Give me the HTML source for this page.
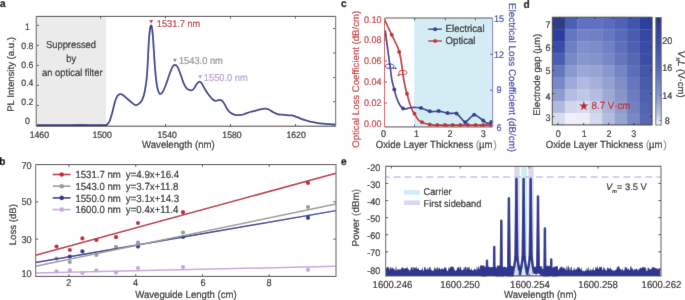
<!DOCTYPE html>
<html><head><meta charset="utf-8"><style>
html,body{margin:0;padding:0;background:#fff;width:685px;height:300px;overflow:hidden}
svg{display:block}
text{font-family:"Liberation Sans", sans-serif;stroke-width:0.2px;text-rendering:geometricPrecision}
</style></head><body>
<svg width="685" height="300" viewBox="0 0 685 300">
<defs><filter id="soft" x="0" y="0" width="100%" height="100%" filterUnits="userSpaceOnUse"><feConvolveMatrix order="3" kernelMatrix="0.00524 0.06192 0.00524 0.06192 0.73137 0.06192 0.00524 0.06192 0.00524" edgeMode="duplicate"/></filter></defs>
<rect width="685" height="300" fill="#fff"/>
<g filter="url(#soft)">
<rect width="685" height="300" fill="#fff"/>
<text transform="translate(0.1,7.4) scale(0.9346,1)" font-size="10.91" text-anchor="start" fill="#000" stroke="#000" font-weight="bold" >a</text>
<rect x="36.3" y="16.4" width="69.7" height="109.80000000000001" fill="#ebebeb"/>
<text transform="translate(71.0,48.2) scale(0.9346,1)" font-size="10.06" text-anchor="middle" fill="#2a2a2a" stroke="#2a2a2a" font-weight="normal" >Suppressed</text>
<text transform="translate(71.2,62.0) scale(0.9346,1)" font-size="10.06" text-anchor="middle" fill="#2a2a2a" stroke="#2a2a2a" font-weight="normal" >by</text>
<text transform="translate(72.3,75.8) scale(0.9346,1)" font-size="10.06" text-anchor="middle" fill="#2a2a2a" stroke="#2a2a2a" font-weight="normal" >an optical filter</text>
<line x1="36.3" y1="25.4" x2="38.9" y2="25.4" stroke="#3c3c3c" stroke-width="0.9" />
<line x1="36.3" y1="45.4" x2="38.9" y2="45.4" stroke="#3c3c3c" stroke-width="0.9" />
<line x1="36.3" y1="65.4" x2="38.9" y2="65.4" stroke="#3c3c3c" stroke-width="0.9" />
<line x1="36.3" y1="85.4" x2="38.9" y2="85.4" stroke="#3c3c3c" stroke-width="0.9" />
<line x1="36.3" y1="105.4" x2="38.9" y2="105.4" stroke="#3c3c3c" stroke-width="0.9" />
<line x1="333.0" y1="28.5" x2="335.6" y2="28.5" stroke="#3c3c3c" stroke-width="0.9" />
<line x1="333.0" y1="53.0" x2="335.6" y2="53.0" stroke="#3c3c3c" stroke-width="0.9" />
<line x1="333.0" y1="77.5" x2="335.6" y2="77.5" stroke="#3c3c3c" stroke-width="0.9" />
<line x1="333.0" y1="101.7" x2="335.6" y2="101.7" stroke="#3c3c3c" stroke-width="0.9" />
<line x1="100.6" y1="126.2" x2="100.6" y2="124.0" stroke="#3c3c3c" stroke-width="0.9" />
<line x1="100.6" y1="16.4" x2="100.6" y2="18.599999999999998" stroke="#3c3c3c" stroke-width="0.9" />
<line x1="165.5" y1="126.2" x2="165.5" y2="124.0" stroke="#3c3c3c" stroke-width="0.9" />
<line x1="165.5" y1="16.4" x2="165.5" y2="18.599999999999998" stroke="#3c3c3c" stroke-width="0.9" />
<line x1="230.5" y1="126.2" x2="230.5" y2="124.0" stroke="#3c3c3c" stroke-width="0.9" />
<line x1="230.5" y1="16.4" x2="230.5" y2="18.599999999999998" stroke="#3c3c3c" stroke-width="0.9" />
<line x1="295.5" y1="126.2" x2="295.5" y2="124.0" stroke="#3c3c3c" stroke-width="0.9" />
<line x1="295.5" y1="16.4" x2="295.5" y2="18.599999999999998" stroke="#3c3c3c" stroke-width="0.9" />
<path d="M36.30,125.10 C40.25,125.12 52.72,125.22 60.00,125.20 C67.28,125.18 72.67,125.02 80.00,125.00 C87.33,124.98 99.55,125.17 104.00,125.10 C108.45,125.03 105.95,124.95 106.70,124.60 C107.45,124.25 107.95,123.77 108.50,123.00 C109.05,122.23 109.33,121.88 110.00,120.00 C110.67,118.12 111.67,114.75 112.50,111.70 C113.33,108.65 114.17,104.35 115.00,101.70 C115.83,99.05 116.67,97.05 117.50,95.80 C118.33,94.55 119.17,94.38 120.00,94.20 C120.83,94.02 121.38,94.02 122.50,94.70 C123.62,95.38 125.32,97.13 126.70,98.30 C128.08,99.47 129.42,100.58 130.80,101.70 C132.18,102.82 133.75,104.58 135.00,105.00 C136.25,105.42 137.18,104.90 138.30,104.20 C139.42,103.50 140.80,102.20 141.70,100.80 C142.60,99.40 143.10,97.88 143.70,95.80 C144.30,93.72 144.80,91.27 145.30,88.30 C145.80,85.33 146.30,82.17 146.70,78.00 C147.10,73.83 147.35,69.30 147.70,63.30 C148.05,57.30 148.42,47.72 148.80,42.00 C149.18,36.28 149.62,31.78 150.00,29.00 C150.38,26.22 150.73,25.30 151.10,25.30 C151.47,25.30 151.83,26.22 152.20,29.00 C152.57,31.78 152.95,37.17 153.30,42.00 C153.65,46.83 153.97,53.05 154.30,58.00 C154.63,62.95 154.90,67.37 155.30,71.70 C155.70,76.03 156.20,80.75 156.70,84.00 C157.20,87.25 157.75,89.57 158.30,91.20 C158.85,92.83 159.30,93.63 160.00,93.80 C160.70,93.97 161.53,93.67 162.50,92.20 C163.47,90.73 164.68,87.87 165.80,85.00 C166.92,82.13 168.08,78.02 169.20,75.00 C170.32,71.98 171.58,68.58 172.50,66.90 C173.42,65.22 173.87,64.90 174.70,64.90 C175.53,64.90 176.48,65.22 177.50,66.90 C178.52,68.58 179.77,72.27 180.80,75.00 C181.83,77.73 182.72,81.08 183.70,83.30 C184.68,85.52 185.65,87.15 186.70,88.30 C187.75,89.45 189.03,89.92 190.00,90.20 C190.97,90.48 191.80,90.32 192.50,90.00 C193.20,89.68 193.50,89.27 194.20,88.30 C194.90,87.33 195.78,85.30 196.70,84.20 C197.62,83.10 198.87,81.85 199.70,81.70 C200.53,81.55 200.82,82.05 201.70,83.30 C202.58,84.55 203.90,87.38 205.00,89.20 C206.10,91.02 207.05,92.53 208.30,94.20 C209.55,95.87 211.25,98.10 212.50,99.20 C213.75,100.30 214.88,100.62 215.80,100.80 C216.72,100.98 217.30,100.45 218.00,100.30 C218.70,100.15 219.25,99.75 220.00,99.90 C220.75,100.05 221.67,100.35 222.50,101.20 C223.33,102.05 224.17,103.62 225.00,105.00 C225.83,106.38 226.53,108.15 227.50,109.50 C228.47,110.85 229.55,112.22 230.80,113.10 C232.05,113.98 233.75,114.47 235.00,114.80 C236.25,115.13 236.92,115.15 238.30,115.10 C239.68,115.05 241.35,115.02 243.30,114.50 C245.25,113.98 247.92,112.65 250.00,112.00 C252.08,111.35 253.85,111.07 255.80,110.60 C257.75,110.13 260.08,109.53 261.70,109.20 C263.32,108.87 264.32,108.55 265.50,108.60 C266.68,108.65 267.50,108.88 268.80,109.50 C270.10,110.12 271.72,111.48 273.30,112.30 C274.88,113.12 276.77,114.02 278.30,114.40 C279.83,114.78 281.10,114.47 282.50,114.60 C283.90,114.73 285.17,115.07 286.70,115.20 C288.23,115.33 290.32,115.22 291.70,115.40 C293.08,115.58 293.62,115.82 295.00,116.30 C296.38,116.78 298.33,117.65 300.00,118.30 C301.67,118.95 303.33,119.65 305.00,120.20 C306.67,120.75 308.05,121.17 310.00,121.60 C311.95,122.03 314.48,122.47 316.70,122.80 C318.92,123.13 321.08,123.37 323.30,123.60 C325.52,123.83 327.97,124.03 330.00,124.20 C332.03,124.37 334.58,124.53 335.50,124.60" fill="none" stroke="#35388c" stroke-width="1.8" stroke-linejoin="round"/>
<line x1="36.3" y1="16.4" x2="335.6" y2="16.4" stroke="#3a3a3a" stroke-width="1.0" />
<line x1="36.3" y1="126.2" x2="335.6" y2="126.2" stroke="#3a3a3a" stroke-width="1.0" />
<line x1="36.3" y1="15.899999999999999" x2="36.3" y2="126.7" stroke="#7c7c7c" stroke-width="1.25" />
<line x1="335.6" y1="15.899999999999999" x2="335.6" y2="126.7" stroke="#7c7c7c" stroke-width="1.25" />
<path d="M149.29999999999998,20.1 L153.1,20.1 L151.2,23.5 Z" fill="#c0272d"/>
<text transform="translate(156.8,26.6) scale(0.9346,1)" font-size="9.84" text-anchor="start" fill="#b8323a" stroke="#b8323a" font-weight="normal" >1531.7 nm</text>
<path d="M172.9,58.75 L176.9,58.75 L174.9,62.25 Z" fill="#8c8c8c"/>
<text transform="translate(178.9,64.0) scale(0.9346,1)" font-size="9.95" text-anchor="start" fill="#909090" stroke="#909090" font-weight="normal" >1543.0 nm</text>
<path d="M198.2,75.25 L202.2,75.25 L200.2,78.75 Z" fill="#b99bd6"/>
<text transform="translate(203.8,81.2) scale(0.9346,1)" font-size="9.95" text-anchor="start" fill="#b69bd6" stroke="#b69bd6" font-weight="normal" >1550.0 nm</text>
<text transform="translate(27.4,30.099999999999998) scale(0.9346,1)" font-size="9.31" text-anchor="middle" fill="#262626" stroke="#262626" font-weight="normal" >1</text>
<text transform="translate(27.4,48.8) scale(0.9346,1)" font-size="9.31" text-anchor="middle" fill="#262626" stroke="#262626" font-weight="normal" >0.8</text>
<text transform="translate(27.4,67.5) scale(0.9346,1)" font-size="9.31" text-anchor="middle" fill="#262626" stroke="#262626" font-weight="normal" >0.6</text>
<text transform="translate(27.4,86.2) scale(0.9346,1)" font-size="9.31" text-anchor="middle" fill="#262626" stroke="#262626" font-weight="normal" >0.4</text>
<text transform="translate(27.4,104.9) scale(0.9346,1)" font-size="9.31" text-anchor="middle" fill="#262626" stroke="#262626" font-weight="normal" >0.2</text>
<text transform="translate(27.4,123.60000000000001) scale(0.9346,1)" font-size="9.31" text-anchor="middle" fill="#262626" stroke="#262626" font-weight="normal" >0</text>
<text transform="translate(39.3,137.6) scale(0.9346,1)" font-size="9.31" text-anchor="middle" fill="#262626" stroke="#262626" font-weight="normal" >1460</text>
<text transform="translate(102.1,137.6) scale(0.9346,1)" font-size="9.31" text-anchor="middle" fill="#262626" stroke="#262626" font-weight="normal" >1500</text>
<text transform="translate(167.2,137.6) scale(0.9346,1)" font-size="9.31" text-anchor="middle" fill="#262626" stroke="#262626" font-weight="normal" >1540</text>
<text transform="translate(232,137.6) scale(0.9346,1)" font-size="9.31" text-anchor="middle" fill="#262626" stroke="#262626" font-weight="normal" >1580</text>
<text transform="translate(296.1,137.6) scale(0.9346,1)" font-size="9.31" text-anchor="middle" fill="#262626" stroke="#262626" font-weight="normal" >1620</text>
<text transform="translate(178.4,148.2) scale(0.9346,1)" font-size="10.27" text-anchor="middle" fill="#262626" stroke="#262626" font-weight="normal" >Wavelength (nm)</text>
<text transform="translate(14.0,74.4) rotate(-90)" font-size="9.6" text-anchor="middle" fill="#262626" stroke="#262626" >PL Intensity (a.u.)</text>
<text transform="translate(340.9,7.4) scale(0.9346,1)" font-size="10.91" text-anchor="start" fill="#000" stroke="#000" font-weight="bold" >c</text>
<rect x="414.1" y="18.0" width="78.5" height="108.9" fill="#d4edf5"/>
<line x1="384.5" y1="18.0" x2="492.6" y2="18.0" stroke="#555" stroke-width="1" />
<line x1="384.5" y1="126.9" x2="492.6" y2="126.9" stroke="#9a9a9a" stroke-width="1.6" />
<line x1="414.7" y1="18.0" x2="414.7" y2="20.5" stroke="#555" stroke-width="1" />
<line x1="445.3" y1="18.0" x2="445.3" y2="20.5" stroke="#555" stroke-width="1" />
<line x1="475.4" y1="18.0" x2="475.4" y2="20.5" stroke="#555" stroke-width="1" />
<line x1="414.5" y1="126.9" x2="414.5" y2="124.4" stroke="#555" stroke-width="1" />
<line x1="447.5" y1="126.9" x2="447.5" y2="124.4" stroke="#555" stroke-width="1" />
<line x1="480.5" y1="126.9" x2="480.5" y2="124.4" stroke="#555" stroke-width="1" />
<path d="M384.40,19.20 C385.00,20.50 386.78,24.42 388.00,27.00 C389.22,29.58 390.58,32.37 391.70,34.70 C392.82,37.03 393.77,39.07 394.70,41.00 C395.63,42.93 396.55,44.47 397.30,46.30 C398.05,48.13 398.62,49.88 399.20,52.00 C399.78,54.12 400.28,56.17 400.80,59.00 C401.32,61.83 401.80,65.50 402.30,69.00 C402.80,72.50 403.28,76.87 403.80,80.00 C404.32,83.13 404.87,85.52 405.40,87.80 C405.93,90.08 406.33,91.25 407.00,93.70 C407.67,96.15 408.57,99.87 409.40,102.50 C410.23,105.13 411.15,107.62 412.00,109.50 C412.85,111.38 413.50,112.13 414.50,113.80 C415.50,115.47 416.75,118.08 418.00,119.50 C419.25,120.92 420.67,121.58 422.00,122.30 C423.33,123.02 424.70,123.43 426.00,123.80 C427.30,124.17 428.47,124.30 429.80,124.50 C431.13,124.70 432.73,124.90 434.00,125.00 C435.27,125.10 427.90,125.08 437.40,125.10 C446.90,125.12 482.07,125.10 491.00,125.10" fill="none" stroke="#c22f36" stroke-width="1.7"/>
<circle cx="391.7" cy="34.7" r="2.0" fill="#c22f36"/>
<circle cx="399.2" cy="52" r="2.0" fill="#c22f36"/>
<circle cx="407" cy="93.7" r="2.0" fill="#c22f36"/>
<circle cx="414.5" cy="113.8" r="2.0" fill="#c22f36"/>
<circle cx="422" cy="122.3" r="2.0" fill="#c22f36"/>
<circle cx="429.8" cy="124.4" r="2.0" fill="#c22f36"/>
<circle cx="437.4" cy="125.1" r="2.0" fill="#c22f36"/>
<circle cx="445.03" cy="125.1" r="2.0" fill="#c22f36"/>
<circle cx="452.65999999999997" cy="125.1" r="2.0" fill="#c22f36"/>
<circle cx="460.28999999999996" cy="125.1" r="2.0" fill="#c22f36"/>
<circle cx="467.91999999999996" cy="125.1" r="2.0" fill="#c22f36"/>
<circle cx="475.54999999999995" cy="125.1" r="2.0" fill="#c22f36"/>
<circle cx="483.17999999999995" cy="125.1" r="2.0" fill="#c22f36"/>
<circle cx="490.80999999999995" cy="125.1" r="2.0" fill="#c22f36"/>
<path d="M385.20,30.30 C385.42,31.92 385.95,35.88 386.50,40.00 C387.05,44.12 387.87,50.33 388.50,55.00 C389.13,59.67 389.73,63.83 390.30,68.00 C390.87,72.17 391.23,76.40 391.90,80.00 C392.57,83.60 393.53,86.68 394.30,89.60 C395.07,92.52 395.60,94.98 396.50,97.50 C397.40,100.02 398.62,102.87 399.70,104.70 C400.78,106.53 401.95,107.82 403.00,108.50 C404.05,109.18 405.00,108.88 406.00,108.80 C407.00,108.72 408.00,108.22 409.00,108.00 C410.00,107.78 410.83,107.58 412.00,107.50 C413.17,107.42 414.50,107.42 416.00,107.50 C417.50,107.58 419.50,107.67 421.00,108.00 C422.50,108.33 423.53,108.95 425.00,109.50 C426.47,110.05 428.30,110.97 429.80,111.30 C431.30,111.63 432.53,111.53 434.00,111.50 C435.47,111.47 437.10,111.02 438.60,111.10 C440.10,111.18 441.52,111.67 443.00,112.00 C444.48,112.33 446.00,112.87 447.50,113.10 C449.00,113.33 450.50,113.33 452.00,113.40 C453.50,113.47 455.00,112.73 456.50,113.50 C458.00,114.27 459.55,116.55 461.00,118.00 C462.45,119.45 463.78,122.12 465.20,122.20 C466.62,122.28 468.00,119.73 469.50,118.50 C471.00,117.27 472.70,115.05 474.20,114.80 C475.70,114.55 477.00,116.07 478.50,117.00 C480.00,117.93 481.73,119.33 483.20,120.40 C484.67,121.47 485.93,123.13 487.30,123.40 C488.67,123.67 490.72,122.23 491.40,122.00" fill="none" stroke="#343a96" stroke-width="1.7"/>
<circle cx="394.3" cy="89.6" r="2.0" fill="#343a96"/>
<circle cx="403" cy="108.5" r="2.0" fill="#343a96"/>
<circle cx="421" cy="108" r="2.0" fill="#343a96"/>
<circle cx="429.8" cy="111.3" r="2.0" fill="#343a96"/>
<circle cx="438.6" cy="111.1" r="2.0" fill="#343a96"/>
<circle cx="447.5" cy="113.1" r="2.0" fill="#343a96"/>
<circle cx="456.5" cy="113.5" r="2.0" fill="#343a96"/>
<circle cx="465.2" cy="122.2" r="2.0" fill="#343a96"/>
<circle cx="474.2" cy="114.8" r="2.0" fill="#343a96"/>
<circle cx="483.2" cy="120.4" r="2.0" fill="#343a96"/>
<circle cx="491.4" cy="122" r="2.0" fill="#343a96"/>
<ellipse cx="389.7" cy="66.2" rx="4.3" ry="2.1" fill="none" stroke="#343a96" stroke-width="1"/>
<path d="M392.5,68.3 L395.8,68.3" stroke="#343a96" stroke-width="1"/><path d="M397,68.3 L395,67 L395,69.6 Z" fill="#343a96"/>
<ellipse cx="402.8" cy="72.6" rx="4.1" ry="2.1" fill="none" stroke="#c22f36" stroke-width="1"/>
<path d="M400,74.9 L398.2,75.1" stroke="#c22f36" stroke-width="1"/><path d="M397,75.2 L399,73.9 L399,76.5 Z" fill="#c22f36"/>
<line x1="384.5" y1="18.0" x2="384.5" y2="126.9" stroke="#cc5a60" stroke-width="1.0" />
<line x1="492.6" y1="18.0" x2="492.6" y2="126.9" stroke="#8a8ccc" stroke-width="1.1" />
<line x1="384.5" y1="40" x2="387.0" y2="40" stroke="#c23a40" stroke-width="1" />
<line x1="384.5" y1="61" x2="387.0" y2="61" stroke="#c23a40" stroke-width="1" />
<line x1="384.5" y1="82" x2="387.0" y2="82" stroke="#c23a40" stroke-width="1" />
<line x1="384.5" y1="103" x2="387.0" y2="103" stroke="#c23a40" stroke-width="1" />
<line x1="490.1" y1="54.3" x2="492.6" y2="54.3" stroke="#4a4fa8" stroke-width="1" />
<line x1="490.1" y1="90.2" x2="492.6" y2="90.2" stroke="#4a4fa8" stroke-width="1" />
<line x1="428.2" y1="29.2" x2="441.9" y2="29.2" stroke="#343a96" stroke-width="1.4" />
<circle cx="435.1" cy="29.2" r="2.0" fill="#343a96"/>
<line x1="428.2" y1="41.0" x2="441.9" y2="41.0" stroke="#c22f36" stroke-width="1.4" />
<circle cx="435.1" cy="41.0" r="2.0" fill="#c22f36"/>
<text transform="translate(445.6,32.0) scale(0.9346,1)" font-size="10.27" text-anchor="start" fill="#262626" stroke="#262626" font-weight="normal" >Electrical</text>
<text transform="translate(445.6,43.9) scale(0.9346,1)" font-size="10.27" text-anchor="start" fill="#262626" stroke="#262626" font-weight="normal" >Optical</text>
<text transform="translate(381.4,22.6) scale(0.9346,1)" font-size="9.63" text-anchor="end" fill="#c0393f" stroke="#c0393f" font-weight="normal" >0.10</text>
<text transform="translate(381.4,43.3) scale(0.9346,1)" font-size="9.63" text-anchor="end" fill="#c0393f" stroke="#c0393f" font-weight="normal" >0.08</text>
<text transform="translate(381.4,64.3) scale(0.9346,1)" font-size="9.63" text-anchor="end" fill="#c0393f" stroke="#c0393f" font-weight="normal" >0.06</text>
<text transform="translate(381.4,85.3) scale(0.9346,1)" font-size="9.63" text-anchor="end" fill="#c0393f" stroke="#c0393f" font-weight="normal" >0.04</text>
<text transform="translate(381.4,106.1) scale(0.9346,1)" font-size="9.63" text-anchor="end" fill="#c0393f" stroke="#c0393f" font-weight="normal" >0.02</text>
<text transform="translate(381.4,127.2) scale(0.9346,1)" font-size="9.63" text-anchor="end" fill="#c0393f" stroke="#c0393f" font-weight="normal" >0.00</text>
<text transform="translate(499.0,21.8) scale(0.9346,1)" font-size="9.63" text-anchor="middle" fill="#3d429c" stroke="#3d429c" font-weight="normal" >15</text>
<text transform="translate(499.0,57.8) scale(0.9346,1)" font-size="9.63" text-anchor="middle" fill="#3d429c" stroke="#3d429c" font-weight="normal" >12</text>
<text transform="translate(499.0,93.4) scale(0.9346,1)" font-size="9.63" text-anchor="middle" fill="#3d429c" stroke="#3d429c" font-weight="normal" >9</text>
<text transform="translate(499.0,130.8) scale(0.9346,1)" font-size="9.63" text-anchor="middle" fill="#3d429c" stroke="#3d429c" font-weight="normal" >6</text>
<text transform="translate(383.5,137.0) scale(0.9346,1)" font-size="9.63" text-anchor="middle" fill="#262626" stroke="#262626" font-weight="normal" >0</text>
<text transform="translate(416.6,137.0) scale(0.9346,1)" font-size="9.63" text-anchor="middle" fill="#262626" stroke="#262626" font-weight="normal" >1</text>
<text transform="translate(450.0,137.0) scale(0.9346,1)" font-size="9.63" text-anchor="middle" fill="#262626" stroke="#262626" font-weight="normal" >2</text>
<text transform="translate(483.2,137.0) scale(0.9346,1)" font-size="9.63" text-anchor="middle" fill="#262626" stroke="#262626" font-weight="normal" >3</text>
<text transform="translate(436.2,148.2) scale(0.9346,1)" font-size="10.27" text-anchor="middle" fill="#262626" stroke="#262626" font-weight="normal" >Oxide Layer Thickness <tspan fill="#8a8a8a" stroke="#8a8a8a">(</tspan>µm <tspan fill="#8a8a8a" stroke="#8a8a8a" dx="-2">)</tspan></text>
<text transform="translate(358.8,79.3) rotate(-90)" font-size="9.6" text-anchor="middle" fill="#c0393f" stroke="#c0393f" >Optical Loss Coefficient (dB/cm)</text>
<text transform="translate(508.6,77.6) rotate(90)" font-size="9.8" text-anchor="middle" fill="#3d429c" stroke="#3d429c" >Electrical Loss Coefficient (dB/cm)</text>
<text transform="translate(523.6,7.5) scale(0.9346,1)" font-size="10.91" text-anchor="start" fill="#000" stroke="#000" font-weight="bold" >d</text>
<rect x="552.30" y="17.20" width="12.76" height="12.27" fill="#303a88"/>
<rect x="564.76" y="17.20" width="12.76" height="12.27" fill="#4d5eb5"/>
<rect x="577.22" y="17.20" width="12.76" height="12.27" fill="#6070c0"/>
<rect x="589.69" y="17.20" width="12.76" height="12.27" fill="#6070c0"/>
<rect x="602.15" y="17.20" width="12.76" height="12.27" fill="#5a6cbe"/>
<rect x="614.61" y="17.20" width="12.76" height="12.27" fill="#5063b6"/>
<rect x="627.08" y="17.20" width="12.76" height="12.27" fill="#4356ab"/>
<rect x="639.54" y="17.20" width="12.76" height="12.27" fill="#2c3f9c"/>
<rect x="552.30" y="29.17" width="12.76" height="12.27" fill="#2a3d9e"/>
<rect x="564.76" y="29.17" width="12.76" height="12.27" fill="#6474bf"/>
<rect x="577.22" y="29.17" width="12.76" height="12.27" fill="#7282c5"/>
<rect x="589.69" y="29.17" width="12.76" height="12.27" fill="#7080c4"/>
<rect x="602.15" y="29.17" width="12.76" height="12.27" fill="#6676c0"/>
<rect x="614.61" y="29.17" width="12.76" height="12.27" fill="#5a6bb8"/>
<rect x="627.08" y="29.17" width="12.76" height="12.27" fill="#4a5cb0"/>
<rect x="639.54" y="29.17" width="12.76" height="12.27" fill="#3547a2"/>
<rect x="552.30" y="41.13" width="12.76" height="12.27" fill="#3a4ba8"/>
<rect x="564.76" y="41.13" width="12.76" height="12.27" fill="#6e7ec5"/>
<rect x="577.22" y="41.13" width="12.76" height="12.27" fill="#8090cc"/>
<rect x="589.69" y="41.13" width="12.76" height="12.27" fill="#7c8cca"/>
<rect x="602.15" y="41.13" width="12.76" height="12.27" fill="#7080c5"/>
<rect x="614.61" y="41.13" width="12.76" height="12.27" fill="#6070bc"/>
<rect x="627.08" y="41.13" width="12.76" height="12.27" fill="#5060b2"/>
<rect x="639.54" y="41.13" width="12.76" height="12.27" fill="#3a4ca6"/>
<rect x="552.30" y="53.10" width="12.76" height="12.27" fill="#4a5db5"/>
<rect x="564.76" y="53.10" width="12.76" height="12.27" fill="#7888c6"/>
<rect x="577.22" y="53.10" width="12.76" height="12.27" fill="#8898cd"/>
<rect x="589.69" y="53.10" width="12.76" height="12.27" fill="#8494cb"/>
<rect x="602.15" y="53.10" width="12.76" height="12.27" fill="#7888c4"/>
<rect x="614.61" y="53.10" width="12.76" height="12.27" fill="#6676bc"/>
<rect x="627.08" y="53.10" width="12.76" height="12.27" fill="#5567b3"/>
<rect x="639.54" y="53.10" width="12.76" height="12.27" fill="#3e4fa5"/>
<rect x="552.30" y="65.07" width="12.76" height="12.27" fill="#6676c0"/>
<rect x="564.76" y="65.07" width="12.76" height="12.27" fill="#8a9ad0"/>
<rect x="577.22" y="65.07" width="12.76" height="12.27" fill="#9ca8d6"/>
<rect x="589.69" y="65.07" width="12.76" height="12.27" fill="#98a4d4"/>
<rect x="602.15" y="65.07" width="12.76" height="12.27" fill="#8898cd"/>
<rect x="614.61" y="65.07" width="12.76" height="12.27" fill="#7484c2"/>
<rect x="627.08" y="65.07" width="12.76" height="12.27" fill="#5d6eb8"/>
<rect x="639.54" y="65.07" width="12.76" height="12.27" fill="#4455a8"/>
<rect x="552.30" y="77.03" width="12.76" height="12.27" fill="#7888c8"/>
<rect x="564.76" y="77.03" width="12.76" height="12.27" fill="#9eaad8"/>
<rect x="577.22" y="77.03" width="12.76" height="12.27" fill="#b0badf"/>
<rect x="589.69" y="77.03" width="12.76" height="12.27" fill="#a6b0da"/>
<rect x="602.15" y="77.03" width="12.76" height="12.27" fill="#94a2d2"/>
<rect x="614.61" y="77.03" width="12.76" height="12.27" fill="#7e8ec8"/>
<rect x="627.08" y="77.03" width="12.76" height="12.27" fill="#6676bc"/>
<rect x="639.54" y="77.03" width="12.76" height="12.27" fill="#4a5bab"/>
<rect x="552.30" y="89.00" width="12.76" height="12.27" fill="#8e9cd0"/>
<rect x="564.76" y="89.00" width="12.76" height="12.27" fill="#b4bee0"/>
<rect x="577.22" y="89.00" width="12.76" height="12.27" fill="#c0c8e5"/>
<rect x="589.69" y="89.00" width="12.76" height="12.27" fill="#b4bde0"/>
<rect x="602.15" y="89.00" width="12.76" height="12.27" fill="#9eaad6"/>
<rect x="614.61" y="89.00" width="12.76" height="12.27" fill="#8896ca"/>
<rect x="627.08" y="89.00" width="12.76" height="12.27" fill="#6c7cbe"/>
<rect x="639.54" y="89.00" width="12.76" height="12.27" fill="#4f60ae"/>
<rect x="552.30" y="100.97" width="12.76" height="12.27" fill="#b0bade"/>
<rect x="564.76" y="100.97" width="12.76" height="12.27" fill="#d0d6ec"/>
<rect x="577.22" y="100.97" width="12.76" height="12.27" fill="#d6dbef"/>
<rect x="589.69" y="100.97" width="12.76" height="12.27" fill="#c8cfe8"/>
<rect x="602.15" y="100.97" width="12.76" height="12.27" fill="#aab4da"/>
<rect x="614.61" y="100.97" width="12.76" height="12.27" fill="#909ecc"/>
<rect x="627.08" y="100.97" width="12.76" height="12.27" fill="#7282c0"/>
<rect x="639.54" y="100.97" width="12.76" height="12.27" fill="#5264b0"/>
<rect x="552.30" y="112.93" width="12.76" height="12.27" fill="#d8dcf0"/>
<rect x="564.76" y="112.93" width="12.76" height="12.27" fill="#eeeff8"/>
<rect x="577.22" y="112.93" width="12.76" height="12.27" fill="#ecedf7"/>
<rect x="589.69" y="112.93" width="12.76" height="12.27" fill="#d4d9ee"/>
<rect x="602.15" y="112.93" width="12.76" height="12.27" fill="#b4bddf"/>
<rect x="614.61" y="112.93" width="12.76" height="12.27" fill="#98a4d0"/>
<rect x="627.08" y="112.93" width="12.76" height="12.27" fill="#7888c4"/>
<rect x="639.54" y="112.93" width="12.76" height="12.27" fill="#5667b2"/>
<rect x="552.3" y="17.2" width="99.70000000000005" height="107.7" fill="none" stroke="#444" stroke-width="1"/>
<line x1="558.0" y1="124.9" x2="558.0" y2="122.9" stroke="#333" stroke-width="1" />
<line x1="583.7" y1="124.9" x2="583.7" y2="122.9" stroke="#333" stroke-width="1" />
<line x1="608.6" y1="124.9" x2="608.6" y2="122.9" stroke="#333" stroke-width="1" />
<line x1="633.8" y1="124.9" x2="633.8" y2="122.9" stroke="#333" stroke-width="1" />
<line x1="559.5" y1="17.2" x2="559.5" y2="19.0" stroke="#333" stroke-width="1" />
<line x1="577.1" y1="17.2" x2="577.1" y2="19.0" stroke="#333" stroke-width="1" />
<line x1="594.9" y1="17.2" x2="594.9" y2="19.0" stroke="#333" stroke-width="1" />
<line x1="613.2" y1="17.2" x2="613.2" y2="19.0" stroke="#333" stroke-width="1" />
<line x1="630.6" y1="17.2" x2="630.6" y2="19.0" stroke="#333" stroke-width="1" />
<line x1="648.4" y1="17.2" x2="648.4" y2="19.0" stroke="#333" stroke-width="1" />
<line x1="552.3" y1="24.2" x2="554.3" y2="24.2" stroke="#333" stroke-width="1" />
<line x1="650.0" y1="24.2" x2="652.0" y2="24.2" stroke="#333" stroke-width="1" />
<line x1="552.3" y1="47.0" x2="554.3" y2="47.0" stroke="#333" stroke-width="1" />
<line x1="650.0" y1="47.0" x2="652.0" y2="47.0" stroke="#333" stroke-width="1" />
<line x1="552.3" y1="70.2" x2="554.3" y2="70.2" stroke="#333" stroke-width="1" />
<line x1="650.0" y1="70.2" x2="652.0" y2="70.2" stroke="#333" stroke-width="1" />
<line x1="552.3" y1="93.6" x2="554.3" y2="93.6" stroke="#333" stroke-width="1" />
<line x1="650.0" y1="93.6" x2="652.0" y2="93.6" stroke="#333" stroke-width="1" />
<line x1="552.3" y1="116.6" x2="554.3" y2="116.6" stroke="#333" stroke-width="1" />
<line x1="650.0" y1="116.6" x2="652.0" y2="116.6" stroke="#333" stroke-width="1" />
<text transform="translate(548.0,27.8) scale(0.9346,1)" font-size="9.63" text-anchor="middle" fill="#262626" stroke="#262626" font-weight="normal" >7</text>
<text transform="translate(548.0,50.5) scale(0.9346,1)" font-size="9.63" text-anchor="middle" fill="#262626" stroke="#262626" font-weight="normal" >6</text>
<text transform="translate(548.0,73.7) scale(0.9346,1)" font-size="9.63" text-anchor="middle" fill="#262626" stroke="#262626" font-weight="normal" >5</text>
<text transform="translate(548.0,99.5) scale(0.9346,1)" font-size="9.63" text-anchor="middle" fill="#262626" stroke="#262626" font-weight="normal" >4</text>
<text transform="translate(548.0,121.1) scale(0.9346,1)" font-size="9.63" text-anchor="middle" fill="#262626" stroke="#262626" font-weight="normal" >3</text>
<text transform="translate(558.3,137.0) scale(0.9346,1)" font-size="9.63" text-anchor="middle" fill="#262626" stroke="#262626" font-weight="normal" >0</text>
<text transform="translate(584.3,137.0) scale(0.9346,1)" font-size="9.63" text-anchor="middle" fill="#262626" stroke="#262626" font-weight="normal" >1</text>
<text transform="translate(608.9,137.0) scale(0.9346,1)" font-size="9.63" text-anchor="middle" fill="#262626" stroke="#262626" font-weight="normal" >2</text>
<text transform="translate(633.8,137.0) scale(0.9346,1)" font-size="9.63" text-anchor="middle" fill="#262626" stroke="#262626" font-weight="normal" >3</text>
<text transform="translate(606.2,148.2) scale(0.9346,1)" font-size="10.27" text-anchor="middle" fill="#262626" stroke="#262626" font-weight="normal" >Oxide Layer Thickness <tspan fill="#8a8a8a" stroke="#8a8a8a">(</tspan>µm <tspan fill="#8a8a8a" stroke="#8a8a8a" dx="-2">)</tspan></text>
<text transform="translate(540.2,74.8) rotate(-90)" font-size="9.6" text-anchor="middle" fill="#262626" stroke="#262626" >Electrode gap (µm)</text>
<polygon points="583.80,101.10 585.00,104.44 588.56,104.55 585.75,106.73 586.74,110.15 583.80,108.15 580.86,110.15 581.85,106.73 579.04,104.55 582.60,104.44" fill="#c0272d"/>
<text transform="translate(591.6,108.8) scale(0.9346,1)" font-size="10.38" text-anchor="start" fill="#c0272d" stroke="#c0272d" font-weight="normal" >8.7 V·cm</text>
<defs><linearGradient id="cb" x1="0" y1="0" x2="0" y2="1"><stop offset="0" stop-color="#2d3585"/><stop offset="0.2" stop-color="#3a4aa8"/><stop offset="0.46" stop-color="#5566b8"/><stop offset="0.72" stop-color="#8595cf"/><stop offset="0.9" stop-color="#c0c8e6"/><stop offset="1" stop-color="#f2f2fa"/></linearGradient></defs>
<rect x="655.8" y="17.6" width="5.4" height="107.4" fill="url(#cb)" stroke="#555" stroke-width="0.8"/>
<text transform="translate(667.3,43.5) scale(0.9346,1)" font-size="9.63" text-anchor="middle" fill="#262626" stroke="#262626" font-weight="normal" >20</text>
<text transform="translate(667.3,71.3) scale(0.9346,1)" font-size="9.63" text-anchor="middle" fill="#262626" stroke="#262626" font-weight="normal" >16</text>
<text transform="translate(667.3,98.8) scale(0.9346,1)" font-size="9.63" text-anchor="middle" fill="#262626" stroke="#262626" font-weight="normal" >14</text>
<text transform="translate(667.3,124.0) scale(0.9346,1)" font-size="9.63" text-anchor="middle" fill="#262626" stroke="#262626" font-weight="normal" >8</text>
<line x1="661.2" y1="40.0" x2="659.6" y2="40.0" stroke="#555" stroke-width="0.8" />
<line x1="661.2" y1="67.8" x2="659.6" y2="67.8" stroke="#555" stroke-width="0.8" />
<line x1="661.2" y1="95.3" x2="659.6" y2="95.3" stroke="#555" stroke-width="0.8" />
<line x1="661.2" y1="120.5" x2="659.6" y2="120.5" stroke="#555" stroke-width="0.8" />
<text transform="translate(677.8,50.8) rotate(90)" font-size="9.5" fill="#262626" stroke="#262626"><tspan font-style="italic">V</tspan><tspan font-size="6" font-style="italic" dy="2">π</tspan><tspan font-style="italic" dy="-2">L</tspan> (V·cm)</text>
<text transform="translate(-0.8,164.7) scale(0.9346,1)" font-size="10.91" text-anchor="start" fill="#000" stroke="#000" font-weight="bold" >b</text>
<line x1="35.6" y1="239.13333333333333" x2="38.2" y2="239.13333333333333" stroke="#3c3c3c" stroke-width="0.9" />
<line x1="333.4" y1="239.13333333333333" x2="336.0" y2="239.13333333333333" stroke="#3c3c3c" stroke-width="0.9" />
<line x1="35.6" y1="201.86666666666667" x2="38.2" y2="201.86666666666667" stroke="#3c3c3c" stroke-width="0.9" />
<line x1="333.4" y1="201.86666666666667" x2="336.0" y2="201.86666666666667" stroke="#3c3c3c" stroke-width="0.9" />
<line x1="68.97777777777777" y1="276.4" x2="68.97777777777777" y2="274.2" stroke="#3c3c3c" stroke-width="0.9" />
<line x1="68.97777777777777" y1="164.6" x2="68.97777777777777" y2="166.79999999999998" stroke="#3c3c3c" stroke-width="0.9" />
<line x1="135.73333333333332" y1="276.4" x2="135.73333333333332" y2="274.2" stroke="#3c3c3c" stroke-width="0.9" />
<line x1="135.73333333333332" y1="164.6" x2="135.73333333333332" y2="166.79999999999998" stroke="#3c3c3c" stroke-width="0.9" />
<line x1="202.48888888888888" y1="276.4" x2="202.48888888888888" y2="274.2" stroke="#3c3c3c" stroke-width="0.9" />
<line x1="202.48888888888888" y1="164.6" x2="202.48888888888888" y2="166.79999999999998" stroke="#3c3c3c" stroke-width="0.9" />
<line x1="269.2444444444444" y1="276.4" x2="269.2444444444444" y2="274.2" stroke="#3c3c3c" stroke-width="0.9" />
<line x1="269.2444444444444" y1="164.6" x2="269.2444444444444" y2="166.79999999999998" stroke="#3c3c3c" stroke-width="0.9" />
<circle cx="56.5" cy="246.5" r="2.1" fill="#b92c3a"/>
<circle cx="69.8" cy="250" r="2.1" fill="#b92c3a"/>
<circle cx="82.4" cy="238.4" r="2.1" fill="#b92c3a"/>
<circle cx="96.4" cy="240" r="2.1" fill="#b92c3a"/>
<circle cx="116" cy="237.2" r="2.1" fill="#b92c3a"/>
<circle cx="138" cy="223" r="2.1" fill="#b92c3a"/>
<circle cx="183" cy="212.2" r="2.1" fill="#b92c3a"/>
<circle cx="308" cy="183" r="2.1" fill="#b92c3a"/>
<circle cx="56.5" cy="258.6" r="2.1" fill="#9b9b9b"/>
<circle cx="69.8" cy="262" r="2.1" fill="#9b9b9b"/>
<circle cx="96.4" cy="255" r="2.1" fill="#9b9b9b"/>
<circle cx="116" cy="246.8" r="2.1" fill="#9b9b9b"/>
<circle cx="138" cy="242.6" r="2.1" fill="#9b9b9b"/>
<circle cx="183" cy="232.5" r="2.1" fill="#9b9b9b"/>
<circle cx="308" cy="207" r="2.1" fill="#9b9b9b"/>
<circle cx="69.8" cy="256.5" r="2.1" fill="#2f3490"/>
<circle cx="82.4" cy="251.4" r="2.1" fill="#2f3490"/>
<circle cx="138" cy="246.6" r="2.1" fill="#2f3490"/>
<circle cx="183" cy="237" r="2.1" fill="#2f3490"/>
<circle cx="308" cy="217.8" r="2.1" fill="#2f3490"/>
<circle cx="56.5" cy="271.4" r="2.1" fill="#c7a6dd"/>
<circle cx="69.8" cy="270.4" r="2.1" fill="#c7a6dd"/>
<circle cx="82.4" cy="273" r="2.1" fill="#c7a6dd"/>
<circle cx="96.4" cy="270.3" r="2.1" fill="#c7a6dd"/>
<circle cx="116" cy="272.6" r="2.1" fill="#c7a6dd"/>
<circle cx="138" cy="268" r="2.1" fill="#c7a6dd"/>
<circle cx="183" cy="267" r="2.1" fill="#c7a6dd"/>
<circle cx="308" cy="269.8" r="2.1" fill="#c7a6dd"/>
<line x1="35.6" y1="255.3443333333333" x2="336.0" y2="173.17133333333334" stroke="#b92c3a" stroke-width="1.5" />
<line x1="35.6" y1="262.61133333333333" x2="336.0" y2="210.6243333333333" stroke="#2f3490" stroke-width="1.5" />
<line x1="35.6" y1="266.15166666666664" x2="336.0" y2="204.10266666666666" stroke="#9b9b9b" stroke-width="1.5" />
<line x1="35.6" y1="273.046" x2="336.0" y2="266.33799999999997" stroke="#c7a6dd" stroke-width="1.5" />
<line x1="35.6" y1="164.6" x2="336.0" y2="164.6" stroke="#3a3a3a" stroke-width="1.0" />
<line x1="35.6" y1="276.4" x2="336.0" y2="276.4" stroke="#3a3a3a" stroke-width="1.0" />
<line x1="35.6" y1="164.1" x2="35.6" y2="276.9" stroke="#7c7c7c" stroke-width="1.25" />
<line x1="336.0" y1="164.1" x2="336.0" y2="276.9" stroke="#7c7c7c" stroke-width="1.25" />
<line x1="52.7" y1="174.5" x2="70.5" y2="174.5" stroke="#b92c3a" stroke-width="1.6" />
<circle cx="61.7" cy="174.5" r="2.3" fill="#b92c3a"/>
<text transform="translate(75.4,178.2) scale(0.9346,1)" font-size="10.27" text-anchor="start" fill="#262626" stroke="#262626" font-weight="normal" >1531.7 nm</text>
<text transform="translate(125.8,178.2) scale(0.9346,1)" font-size="10.38" text-anchor="start" fill="#262626" stroke="#262626" font-weight="normal" >y=4.9x+16.4</text>
<line x1="52.7" y1="186.2" x2="70.5" y2="186.2" stroke="#9b9b9b" stroke-width="1.6" />
<circle cx="61.7" cy="186.2" r="2.3" fill="#9b9b9b"/>
<text transform="translate(75.4,189.89999999999998) scale(0.9346,1)" font-size="10.27" text-anchor="start" fill="#262626" stroke="#262626" font-weight="normal" >1543.0 nm</text>
<text transform="translate(125.8,189.89999999999998) scale(0.9346,1)" font-size="10.38" text-anchor="start" fill="#262626" stroke="#262626" font-weight="normal" >y=3.7x+11.8</text>
<line x1="52.7" y1="197.9" x2="70.5" y2="197.9" stroke="#2f3490" stroke-width="1.6" />
<circle cx="61.7" cy="197.9" r="2.3" fill="#2f3490"/>
<text transform="translate(75.4,201.6) scale(0.9346,1)" font-size="10.27" text-anchor="start" fill="#262626" stroke="#262626" font-weight="normal" >1550.0 nm</text>
<text transform="translate(125.8,201.6) scale(0.9346,1)" font-size="10.38" text-anchor="start" fill="#262626" stroke="#262626" font-weight="normal" >y=3.1x+14.3</text>
<line x1="52.7" y1="209.6" x2="70.5" y2="209.6" stroke="#c7a6dd" stroke-width="1.6" />
<circle cx="61.7" cy="209.6" r="2.3" fill="#c7a6dd"/>
<text transform="translate(75.4,213.29999999999998) scale(0.9346,1)" font-size="10.27" text-anchor="start" fill="#262626" stroke="#262626" font-weight="normal" >1600.0 nm</text>
<text transform="translate(125.8,213.29999999999998) scale(0.9346,1)" font-size="10.38" text-anchor="start" fill="#262626" stroke="#262626" font-weight="normal" >y=0.4x+11.4</text>
<text transform="translate(26.6,168.9) scale(0.9346,1)" font-size="9.84" text-anchor="middle" fill="#262626" stroke="#262626" font-weight="normal" >70</text>
<text transform="translate(26.6,205.2) scale(0.9346,1)" font-size="9.84" text-anchor="middle" fill="#262626" stroke="#262626" font-weight="normal" >50</text>
<text transform="translate(26.6,242.79999999999998) scale(0.9346,1)" font-size="9.84" text-anchor="middle" fill="#262626" stroke="#262626" font-weight="normal" >30</text>
<text transform="translate(26.6,277.1) scale(0.9346,1)" font-size="9.84" text-anchor="middle" fill="#262626" stroke="#262626" font-weight="normal" >10</text>
<text transform="translate(68.7,285.8) scale(0.9346,1)" font-size="9.84" text-anchor="middle" fill="#262626" stroke="#262626" font-weight="normal" >2</text>
<text transform="translate(135.6,285.8) scale(0.9346,1)" font-size="9.84" text-anchor="middle" fill="#262626" stroke="#262626" font-weight="normal" >4</text>
<text transform="translate(203,285.8) scale(0.9346,1)" font-size="9.84" text-anchor="middle" fill="#262626" stroke="#262626" font-weight="normal" >6</text>
<text transform="translate(269,285.8) scale(0.9346,1)" font-size="9.84" text-anchor="middle" fill="#262626" stroke="#262626" font-weight="normal" >8</text>
<text transform="translate(186.0,297.5) scale(0.9346,1)" font-size="10.27" text-anchor="middle" fill="#262626" stroke="#262626" font-weight="normal" >Waveguide Length (cm)</text>
<text transform="translate(15.6,224.7) rotate(-90)" font-size="9.6" text-anchor="middle" fill="#262626" stroke="#262626" >Loss (dB)</text>
<text transform="translate(340.9,165.0) scale(0.9346,1)" font-size="10.91" text-anchor="start" fill="#000" stroke="#000" font-weight="bold" >e</text>
<rect x="514.3" y="166.3" width="5.3" height="109.59999999999997" fill="#d8d8ee"/>
<rect x="521.3" y="166.3" width="5.8" height="109.59999999999997" fill="#d0ecf4"/>
<rect x="528.4" y="166.3" width="5.3" height="109.59999999999997" fill="#d8d8ee"/>
<line x1="385.6" y1="177" x2="661.0" y2="177" stroke="#c4c4e6" stroke-width="1.5" stroke-dasharray="6.8,4.15" stroke-dashoffset="2.95"/>
<path d="M385.90,275.9 L385.90,267.01 L386.35,268.82 L386.80,267.53 L387.25,266.73 L387.70,266.73 L388.15,267.35 L388.60,267.35 L389.05,268.16 L389.50,270.33 L389.95,266.85 L390.40,266.85 L390.85,269.03 L391.30,268.87 L391.75,267.27 L392.20,267.78 L392.65,267.71 L393.10,267.71 L393.55,269.00 L394.00,269.00 L394.45,269.00 L394.90,270.91 L395.35,269.86 L395.80,266.48 L396.25,266.48 L396.70,270.41 L397.15,270.41 L397.60,269.03 L398.05,269.03 L398.50,269.03 L398.95,269.42 L399.40,269.42 L399.85,269.42 L400.30,269.42 L400.75,269.42 L401.20,268.11 L401.65,268.47 L402.10,266.58 L402.55,267.46 L403.00,267.46 L403.45,268.41 L403.90,268.41 L404.35,268.41 L404.80,268.41 L405.25,268.25 L405.70,268.25 L406.15,268.25 L406.60,267.13 L407.05,268.58 L407.50,266.32 L407.95,268.96 L408.40,268.96 L408.85,269.20 L409.30,270.53 L409.75,270.53 L410.20,270.53 L410.65,268.18 L411.10,268.18 L411.55,266.62 L412.00,267.40 L412.45,266.78 L412.90,270.41 L413.35,267.49 L413.80,266.88 L414.25,266.88 L414.70,268.57 L415.15,267.91 L415.60,267.91 L416.05,266.41 L416.50,266.99 L416.95,268.78 L417.40,268.78 L417.85,268.78 L418.30,268.02 L418.75,268.02 L419.20,269.96 L419.65,270.11 L420.10,270.11 L420.55,270.11 L421.00,270.11 L421.45,270.11 L421.90,268.73 L422.35,266.43 L422.80,269.55 L423.25,270.70 L423.70,270.70 L424.15,267.34 L424.60,267.26 L425.05,267.26 L425.50,267.26 L425.95,269.37 L426.40,269.40 L426.85,269.40 L427.30,269.40 L427.75,267.14 L428.20,270.06 L428.65,268.19 L429.10,268.19 L429.55,266.90 L430.00,266.90 L430.45,266.90 L430.90,270.18 L431.35,270.18 L431.80,268.88 L432.25,270.86 L432.70,270.69 L433.15,270.69 L433.60,270.69 L434.05,267.48 L434.50,269.06 L434.95,266.92 L435.40,268.45 L435.85,268.45 L436.30,270.61 L436.75,267.60 L437.20,266.32 L437.65,268.53 L438.10,267.83 L438.55,269.99 L439.00,267.47 L439.45,267.47 L439.90,268.94 L440.35,268.94 L440.80,269.18 L441.25,269.56 L441.70,268.55 L442.15,268.55 L442.60,268.55 L443.05,268.55 L443.50,268.93 L443.95,268.93 L444.40,266.87 L444.85,267.43 L445.30,267.43 L445.75,267.43 L446.20,267.43 L446.65,269.67 L447.10,270.45 L447.55,270.78 L448.00,270.95 L448.45,268.33 L448.90,267.22 L449.35,267.22 L449.80,268.90 L450.25,267.86 L450.70,266.60 L451.15,266.60 L451.60,266.60 L452.05,265.88 L452.50,266.91 L452.95,266.91 L453.40,266.91 L453.85,267.00 L454.30,269.59 L454.75,269.53 L455.20,270.71 L455.65,270.71 L456.10,270.32 L456.55,270.32 L457.00,267.89 L457.45,267.89 L457.90,266.91 L458.35,266.81 L458.80,267.25 L459.25,269.87 L459.70,267.14 L460.15,265.88 L460.60,267.19 L461.05,267.19 L461.50,270.15 L461.95,270.22 L462.40,269.53 L462.85,270.21 L463.30,270.21 L463.75,267.24 L464.20,269.78 L464.65,266.70 L465.10,266.70 L465.55,266.70 L466.00,267.44 L466.45,267.04 L466.90,270.82 L467.35,267.45 L467.80,266.90 L468.25,268.66 L468.70,266.32 L469.15,267.64 L469.60,267.39 L470.05,269.83 L470.50,269.83 L470.95,269.83 L471.40,267.83 L471.85,269.70 L472.30,270.23 L472.75,270.23 L473.20,270.23 L473.65,270.23 L474.10,268.76 L474.55,268.76 L475.00,268.76 L475.45,268.76 L475.90,270.50 L476.35,270.50 L476.80,266.45 L477.25,266.79 L477.70,269.25 L478.15,269.25 L478.60,266.32 L479.05,266.32 L479.50,268.82 L479.95,269.76 L480.40,267.55 L480.85,269.78 L481.30,268.10 L481.75,268.10 L482.20,268.10 L482.65,268.10 L483.10,268.10 L483.55,266.99 L484.00,266.99 L484.45,268.38 L484.90,269.46 L485.35,269.46 L485.80,268.73 L486.25,266.86 L486.70,270.90 L487.15,268.46 L487.60,268.46 L488.05,267.56 L488.50,267.56 L488.95,269.03 L489.40,270.78 L489.85,270.78 L490.30,270.47 L490.75,270.52 L491.20,266.32 L491.65,267.72 L492.10,267.79 L492.55,269.83 L493.00,270.65 L493.45,270.65 L493.90,268.05 L494.35,268.05 L494.80,268.00 L495.25,266.53 L495.70,266.53 L496.15,270.70 L496.60,268.70 L497.05,270.79 L497.50,270.79 L497.95,270.79 L498.40,270.79 L498.85,270.79 L499.30,268.08 L499.75,269.84 L500.20,266.53 L500.65,268.52 L501.10,269.77 L501.55,269.38 L502.00,268.15 L502.45,267.28 L502.90,267.33 L503.35,267.33 L503.80,266.96 L504.25,267.91 L504.70,267.51 L505.15,267.51 L505.60,267.51 L506.05,268.25 L506.50,267.89 L506.50,275.9 Z" fill="#2f3490"/>
<path d="M547.90,275.9 L547.90,270.91 L548.35,270.91 L548.80,266.70 L549.25,269.64 L549.70,268.26 L550.15,268.26 L550.60,268.26 L551.05,268.26 L551.50,268.26 L551.95,270.25 L552.40,268.05 L552.85,267.46 L553.30,270.46 L553.75,268.16 L554.20,267.39 L554.65,267.39 L555.10,267.39 L555.55,268.53 L556.00,268.53 L556.45,268.53 L556.90,267.68 L557.35,270.87 L557.80,270.87 L558.25,270.37 L558.70,269.96 L559.15,269.10 L559.60,268.03 L560.05,267.50 L560.50,267.50 L560.95,266.35 L561.40,266.35 L561.85,267.77 L562.30,267.77 L562.75,266.60 L563.20,268.89 L563.65,267.07 L564.10,267.63 L564.55,267.63 L565.00,268.96 L565.45,270.36 L565.90,267.23 L566.35,266.33 L566.80,270.16 L567.25,270.16 L567.70,265.74 L568.15,265.74 L568.60,265.74 L569.05,269.22 L569.50,266.99 L569.95,270.65 L570.40,270.08 L570.85,266.90 L571.30,266.90 L571.75,266.55 L572.20,270.55 L572.65,270.55 L573.10,269.99 L573.55,270.28 L574.00,267.33 L574.45,268.10 L574.90,269.71 L575.35,268.94 L575.80,270.24 L576.25,268.89 L576.70,268.27 L577.15,269.40 L577.60,266.41 L578.05,267.41 L578.50,267.41 L578.95,267.14 L579.40,266.90 L579.85,268.38 L580.30,269.29 L580.75,269.29 L581.20,269.29 L581.65,266.56 L582.10,270.77 L582.55,270.77 L583.00,270.77 L583.45,270.77 L583.90,270.77 L584.35,270.91 L584.80,270.91 L585.25,270.91 L585.70,270.01 L586.15,267.95 L586.60,270.51 L587.05,270.51 L587.50,268.66 L587.95,267.54 L588.40,266.47 L588.85,270.70 L589.30,270.70 L589.75,269.99 L590.20,269.29 L590.65,269.29 L591.10,269.03 L591.55,270.97 L592.00,270.05 L592.45,270.05 L592.90,267.99 L593.35,267.13 L593.80,270.15 L594.25,270.15 L594.70,270.15 L595.15,269.42 L595.60,266.46 L596.05,266.46 L596.50,268.71 L596.95,267.37 L597.40,266.31 L597.85,267.98 L598.30,269.07 L598.75,269.07 L599.20,266.93 L599.65,267.00 L600.10,267.00 L600.55,267.00 L601.00,267.00 L601.45,266.07 L601.90,267.95 L602.35,270.70 L602.80,269.25 L603.25,265.75 L603.70,268.89 L604.15,267.24 L604.60,269.32 L605.05,267.75 L605.50,270.48 L605.95,270.48 L606.40,270.27 L606.85,269.79 L607.30,266.79 L607.75,267.88 L608.20,267.88 L608.65,267.88 L609.10,267.88 L609.55,268.90 L610.00,268.90 L610.45,267.55 L610.90,267.55 L611.35,269.55 L611.80,269.80 L612.25,269.80 L612.70,270.44 L613.15,270.57 L613.60,270.57 L614.05,270.57 L614.50,270.57 L614.95,270.25 L615.40,270.25 L615.85,269.71 L616.30,267.30 L616.75,270.58 L617.20,266.80 L617.65,266.40 L618.10,266.40 L618.55,266.40 L619.00,266.40 L619.45,266.40 L619.90,269.08 L620.35,269.08 L620.80,269.08 L621.25,269.08 L621.70,270.38 L622.15,270.38 L622.60,267.27 L623.05,270.28 L623.50,270.28 L623.95,270.28 L624.40,270.28 L624.85,266.77 L625.30,266.77 L625.75,267.80 L626.20,267.51 L626.65,267.51 L627.10,267.81 L627.55,270.30 L628.00,268.24 L628.45,268.24 L628.90,269.61 L629.35,270.35 L629.80,270.35 L630.25,266.31 L630.70,266.31 L631.15,266.31 L631.60,268.61 L632.05,268.61 L632.50,268.62 L632.95,268.62 L633.40,270.74 L633.85,269.59 L634.30,269.29 L634.75,269.29 L635.20,269.29 L635.65,269.29 L636.10,269.29 L636.55,268.19 L637.00,268.19 L637.45,269.67 L637.90,270.54 L638.35,270.45 L638.80,268.80 L639.25,268.80 L639.70,268.80 L640.15,267.84 L640.60,267.84 L641.05,267.84 L641.50,267.84 L641.95,268.36 L642.40,266.89 L642.85,266.89 L643.30,267.20 L643.75,267.20 L644.20,267.20 L644.65,267.03 L645.10,268.75 L645.55,267.19 L646.00,267.19 L646.45,270.82 L646.90,270.92 L647.35,270.92 L647.80,267.22 L648.25,267.27 L648.70,268.18 L649.15,268.18 L649.60,269.27 L650.05,269.14 L650.50,269.14 L650.95,269.14 L651.40,269.00 L651.85,267.37 L652.30,267.37 L652.75,267.37 L653.20,267.37 L653.65,267.37 L654.10,267.37 L654.55,267.37 L655.00,267.77 L655.45,268.27 L655.90,268.27 L656.35,268.27 L656.80,268.29 L657.25,268.29 L657.70,269.47 L658.15,269.38 L658.60,268.60 L659.05,268.85 L659.50,268.85 L659.95,268.85 L660.40,266.78 L660.40,275.9 Z" fill="#2f3490"/>
<path d="M480.00,271.53 L480.10,271.53 L480.20,271.53 L480.30,271.53 L480.40,271.53 L480.50,271.53 L480.60,271.53 L480.70,271.53 L480.80,269.63 L480.90,269.63 L481.00,269.63 L481.10,266.55 L481.20,266.55 L481.30,273.84 L481.40,273.84 L481.50,272.36 L481.60,272.36 L481.70,272.36 L481.80,272.36 L481.90,274.36 L482.00,274.36 L482.10,274.36 L482.20,274.36 L482.30,268.43 L482.40,268.43 L482.50,275.20 L482.60,275.20 L482.70,275.20 L482.80,275.20 L482.90,275.20 L483.00,275.20 L483.10,266.76 L483.20,266.76 L483.30,266.76 L483.40,266.76 L483.50,266.76 L483.60,266.76 L483.70,271.03 L483.80,268.10 L483.90,268.10 L484.00,268.10 L484.10,272.80 L484.20,272.29 L484.30,275.20 L484.40,275.20 L484.50,274.14 L484.60,274.14 L484.70,274.14 L484.80,274.14 L484.90,274.14 L485.00,274.14 L485.10,274.14 L485.20,274.14 L485.30,274.14 L485.40,268.16 L485.50,268.16 L485.60,268.16 L485.70,268.13 L485.80,268.13 L485.90,275.20 L486.00,275.20 L486.10,275.20 L486.20,275.20 L486.30,274.26 L486.40,274.26 L486.50,274.26 L486.60,267.38 L486.70,267.38 L486.80,267.51 L486.90,267.51 L487.00,260.75 L487.10,267.51 L487.20,267.51 L487.30,267.51 L487.40,267.51 L487.50,269.55 L487.60,269.55 L487.70,269.55 L487.80,269.55 L487.90,269.55 L488.00,269.55 L488.10,274.26 L488.20,271.60 L488.30,271.86 L488.40,271.62 L488.50,271.62 L488.60,271.62 L488.70,271.62 L488.80,268.03 L488.90,268.03 L489.00,268.03 L489.10,268.03 L489.20,268.03 L489.30,268.03 L489.40,268.03 L489.50,268.03 L489.60,270.12 L489.70,270.12 L489.80,270.40 L489.90,270.40 L490.00,270.40 L490.10,270.40 L490.20,270.40 L490.30,270.40 L490.40,270.40 L490.50,270.40 L490.60,269.29 L490.70,269.29 L490.80,269.29 L490.90,269.29 L491.00,269.29 L491.10,269.29 L491.20,269.29 L491.30,269.29 L491.40,272.19 L491.50,272.19 L491.60,272.19 L491.70,272.19 L491.80,268.16 L491.90,268.16 L492.00,268.16 L492.10,271.46 L492.20,271.46 L492.30,271.46 L492.40,271.46 L492.50,271.46 L492.60,271.46 L492.70,270.64 L492.80,270.64 L492.90,270.64 L493.00,269.24 L493.10,269.24 L493.20,269.24 L493.30,273.58 L493.40,274.71 L493.50,274.71 L493.60,274.71 L493.70,274.71 L493.80,274.71 L493.90,274.71 L494.00,273.51 L494.10,262.71 L494.20,246.89 L494.30,262.71 L494.40,273.51 L494.50,274.71 L494.60,269.81 L494.70,269.81 L494.80,269.81 L494.90,274.80 L495.00,268.71 L495.10,268.71 L495.20,268.71 L495.30,268.71 L495.40,268.71 L495.50,268.71 L495.60,268.71 L495.70,273.56 L495.80,273.56 L495.90,273.56 L496.00,273.56 L496.10,273.56 L496.20,273.56 L496.30,270.83 L496.40,275.20 L496.50,275.20 L496.60,275.20 L496.70,275.20 L496.80,275.20 L496.90,272.69 L497.00,272.69 L497.10,272.69 L497.20,272.69 L497.30,272.69 L497.40,272.69 L497.50,270.04 L497.60,275.10 L497.70,275.20 L497.80,275.20 L497.90,266.74 L498.00,267.73 L498.10,275.20 L498.20,275.20 L498.30,269.13 L498.40,275.20 L498.50,275.20 L498.60,275.20 L498.70,275.20 L498.80,275.20 L498.90,270.21 L499.00,270.21 L499.10,270.21 L499.20,270.21 L499.30,266.76 L499.40,266.76 L499.50,275.20 L499.60,275.20 L499.70,275.20 L499.80,273.47 L499.90,273.47 L500.00,267.82 L500.10,267.82 L500.20,272.89 L500.30,272.89 L500.40,272.89 L500.50,272.89 L500.60,268.47 L500.70,268.47 L500.80,268.47 L500.90,265.47 L501.00,256.79 L501.10,247.33 L501.20,236.54 L501.30,220.71 L501.40,236.54 L501.50,247.33 L501.60,256.79 L501.70,265.47 L501.80,273.63 L501.90,275.20 L502.00,275.20 L502.10,275.20 L502.20,275.20 L502.30,275.20 L502.40,275.20 L502.50,275.20 L502.60,275.20 L502.70,275.20 L502.80,275.20 L502.90,275.20 L503.00,275.20 L503.10,275.20 L503.20,275.20 L503.30,275.20 L503.40,272.32 L503.50,272.32 L503.60,272.32 L503.70,272.32 L503.80,268.11 L503.90,268.11 L504.00,268.11 L504.10,268.11 L504.20,267.92 L504.30,267.92 L504.40,267.92 L504.50,267.92 L504.60,267.92 L504.70,270.98 L504.80,270.98 L504.90,268.96 L505.00,268.96 L505.10,270.43 L505.20,270.43 L505.30,270.43 L505.40,274.04 L505.50,274.04 L505.60,274.04 L505.70,274.04 L505.80,268.38 L505.90,268.38 L506.00,270.71 L506.10,270.71 L506.20,270.71 L506.30,270.71 L506.40,270.71 L506.50,270.71 L506.60,274.69 L506.70,269.46 L506.80,269.46 L506.90,269.46 L507.00,269.46 L507.10,269.46 L507.20,275.20 L507.30,275.20 L507.40,275.20 L507.50,270.16 L507.60,270.16 L507.70,270.53 L507.80,270.53 L507.90,270.53 L508.00,275.20 L508.10,273.58 L508.20,266.41 L508.30,258.97 L508.40,251.21 L508.50,243.06 L508.60,234.37 L508.70,224.91 L508.80,214.12 L508.90,198.30 L509.00,214.12 L509.10,224.91 L509.20,234.37 L509.30,243.06 L509.40,251.21 L509.50,258.97 L509.60,266.41 L509.70,273.58 L509.80,275.20 L509.90,270.52 L510.00,270.52 L510.10,266.81 L510.20,270.86 L510.30,270.86 L510.40,270.86 L510.50,270.86 L510.60,270.86 L510.70,270.86 L510.80,266.74 L510.90,266.74 L511.00,275.20 L511.10,273.05 L511.20,273.05 L511.30,273.05 L511.40,273.05 L511.50,268.59 L511.60,268.59 L511.70,268.59 L511.80,268.59 L511.90,275.17 L512.00,275.17 L512.10,275.17 L512.20,275.17 L512.30,270.59 L512.40,270.59 L512.50,273.33 L512.60,275.20 L512.70,275.01 L512.80,274.21 L512.90,269.70 L513.00,269.30 L513.10,272.96 L513.20,272.43 L513.30,267.07 L513.40,267.07 L513.50,267.07 L513.60,270.25 L513.70,267.12 L513.80,267.12 L513.90,267.12 L514.00,267.12 L514.10,267.12 L514.20,266.71 L514.30,266.08 L514.40,265.44 L514.50,264.78 L514.60,264.10 L514.70,263.40 L514.80,262.67 L514.90,261.92 L515.00,261.14 L515.10,260.31 L515.20,259.43 L515.30,258.49 L515.40,257.44 L515.50,256.21 L515.60,254.25 L515.70,247.07 L515.80,239.63 L515.90,231.88 L516.00,223.73 L516.10,215.04 L516.20,205.58 L516.30,194.79 L516.40,178.96 L516.50,194.79 L516.60,205.58 L516.70,215.04 L516.80,223.73 L516.90,231.88 L517.00,239.63 L517.10,247.07 L517.20,254.25 L517.30,256.21 L517.40,257.44 L517.50,258.49 L517.60,259.43 L517.70,260.31 L517.80,261.14 L517.90,261.92 L518.00,262.67 L518.10,263.40 L518.20,264.10 L518.30,264.78 L518.40,265.44 L518.50,266.08 L518.60,266.71 L518.70,267.33 L518.80,267.94 L518.90,268.53 L519.00,269.11 L519.10,269.69 L519.20,268.34 L519.30,268.34 L519.40,268.34 L519.50,268.34 L519.60,268.34 L519.70,267.32 L519.80,267.32 L519.90,267.32 L520.00,274.50 L520.10,273.99 L520.20,273.48 L520.30,272.85 L520.40,272.43 L520.50,271.32 L520.60,271.32 L520.70,270.81 L520.80,269.32 L520.90,269.32 L521.00,269.11 L521.10,268.53 L521.20,267.94 L521.30,267.33 L521.40,266.71 L521.50,266.08 L521.60,265.44 L521.70,264.78 L521.80,264.10 L521.90,263.40 L522.00,262.67 L522.10,261.92 L522.20,261.14 L522.30,260.31 L522.40,259.43 L522.50,258.49 L522.60,257.44 L522.70,256.21 L522.80,254.25 L522.90,247.07 L523.00,239.63 L523.10,231.88 L523.20,223.73 L523.30,215.04 L523.40,205.58 L523.50,194.79 L523.60,178.96 L523.70,194.79 L523.80,205.58 L523.90,215.04 L524.00,223.73 L524.10,231.88 L524.20,239.63 L524.30,247.07 L524.40,254.25 L524.50,256.21 L524.60,257.44 L524.70,258.49 L524.80,259.43 L524.90,260.31 L525.00,261.14 L525.10,261.92 L525.20,262.67 L525.30,263.40 L525.40,264.10 L525.50,264.78 L525.60,265.44 L525.70,266.08 L525.80,266.71 L525.90,267.33 L526.00,267.94 L526.10,268.53 L526.20,269.11 L526.30,269.69 L526.40,270.25 L526.50,270.81 L526.60,271.36 L526.70,271.90 L526.80,272.21 L526.90,272.96 L527.00,273.48 L527.10,273.99 L527.20,273.99 L527.30,273.48 L527.40,272.96 L527.50,272.43 L527.60,271.90 L527.70,270.07 L527.80,269.69 L527.90,270.25 L528.00,269.69 L528.10,269.11 L528.20,268.53 L528.30,267.94 L528.40,267.33 L528.50,266.71 L528.60,266.08 L528.70,265.44 L528.80,264.78 L528.90,264.10 L529.00,263.40 L529.10,262.67 L529.20,261.92 L529.30,261.14 L529.40,260.31 L529.50,259.43 L529.60,258.49 L529.70,257.44 L529.80,256.21 L529.90,254.25 L530.00,247.07 L530.10,239.63 L530.20,231.88 L530.30,223.73 L530.40,215.04 L530.50,205.58 L530.60,194.79 L530.70,178.96 L530.80,194.79 L530.90,205.58 L531.00,215.04 L531.10,223.73 L531.20,231.88 L531.30,239.63 L531.40,247.07 L531.50,254.25 L531.60,256.21 L531.70,257.44 L531.80,258.49 L531.90,259.43 L532.00,260.31 L532.10,261.14 L532.20,261.92 L532.30,262.67 L532.40,263.40 L532.50,264.10 L532.60,264.78 L532.70,265.44 L532.80,266.08 L532.90,266.71 L533.00,267.33 L533.10,267.94 L533.20,268.53 L533.30,269.11 L533.40,269.69 L533.50,270.25 L533.60,270.81 L533.70,271.36 L533.80,271.90 L533.90,272.43 L534.00,267.72 L534.10,268.80 L534.20,268.80 L534.30,268.80 L534.40,268.80 L534.50,268.80 L534.60,268.80 L534.70,268.80 L534.80,268.80 L534.90,268.80 L535.00,268.80 L535.10,268.80 L535.20,268.80 L535.30,268.80 L535.40,272.65 L535.50,272.65 L535.60,272.65 L535.70,272.65 L535.80,272.65 L535.90,272.65 L536.00,272.65 L536.10,272.65 L536.20,273.54 L536.30,270.75 L536.40,270.75 L536.50,267.21 L536.60,267.21 L536.70,267.21 L536.80,267.21 L536.90,267.21 L537.00,272.28 L537.10,272.28 L537.20,271.87 L537.30,264.69 L537.40,257.26 L537.50,249.50 L537.60,241.35 L537.70,232.66 L537.80,223.20 L537.90,212.41 L538.00,196.58 L538.10,212.41 L538.20,223.20 L538.30,232.66 L538.40,241.35 L538.50,249.50 L538.60,257.26 L538.70,264.69 L538.80,271.87 L538.90,272.82 L539.00,272.82 L539.10,272.82 L539.20,272.82 L539.30,272.82 L539.40,272.82 L539.50,272.82 L539.60,272.82 L539.70,272.82 L539.80,272.82 L539.90,272.82 L540.00,272.82 L540.10,272.82 L540.20,273.39 L540.30,273.39 L540.40,273.39 L540.50,273.39 L540.60,267.48 L540.70,267.48 L540.80,267.48 L540.90,267.48 L541.00,267.48 L541.10,267.48 L541.20,273.68 L541.30,273.68 L541.40,273.68 L541.50,274.79 L541.60,274.79 L541.70,274.79 L541.80,274.79 L541.90,274.79 L542.00,274.79 L542.10,272.44 L542.20,272.44 L542.30,272.44 L542.40,272.44 L542.50,273.53 L542.60,273.53 L542.70,273.53 L542.80,273.53 L542.90,271.55 L543.00,271.55 L543.10,270.02 L543.20,270.02 L543.30,270.02 L543.40,270.02 L543.50,270.02 L543.60,275.05 L543.70,275.05 L543.80,275.20 L543.90,271.30 L544.00,271.30 L544.10,271.30 L544.20,271.30 L544.30,275.20 L544.40,275.20 L544.50,273.34 L544.60,264.66 L544.70,255.20 L544.80,244.41 L544.90,228.58 L545.00,244.41 L545.10,255.20 L545.20,264.66 L545.30,267.38 L545.40,267.52 L545.50,267.52 L545.60,267.52 L545.70,267.52 L545.80,267.52 L545.90,275.20 L546.00,275.20 L546.10,275.20 L546.20,275.20 L546.30,275.20 L546.40,275.20 L546.50,275.20 L546.60,275.20 L546.70,275.20 L546.80,275.20 L546.90,275.20 L547.00,272.66 L547.10,272.66 L547.20,273.49 L547.30,273.49 L547.40,273.49 L547.50,273.49 L547.60,274.88 L547.70,274.88 L547.80,266.69 L547.90,270.89 L548.00,271.18 L548.10,271.18 L548.20,271.18 L548.30,275.20 L548.40,275.20 L548.50,275.20 L548.60,274.70 L548.70,274.22 L548.80,269.84 L548.90,269.84 L549.00,269.41 L549.10,273.89 L549.20,273.89 L549.30,272.11 L549.40,272.11 L549.50,272.11 L549.60,273.04 L549.70,273.04 L549.80,273.04 L549.90,273.04 L550.00,266.90 L550.10,266.90 L550.20,272.01 L550.30,269.41 L550.40,267.42 L550.50,267.42 L550.60,267.42 L550.70,270.42 L550.80,267.70 L550.90,271.39 L551.00,271.39 L551.10,268.74 L551.20,259.38 L551.30,268.74 L551.40,268.74 L551.50,268.74 L551.60,268.74 L551.70,274.84 L551.80,274.84 L551.90,274.84 L552.00,274.84 L552.10,270.89 L552.20,270.89 L552.30,270.89 L552.40,275.20 L552.50,275.20 L552.60,275.20 L552.70,275.20 L552.80,272.52 L552.90,272.52 L553.00,272.52 L553.10,272.52 L553.20,272.52 L553.30,273.82 L553.40,269.68 L553.50,269.68 L553.60,269.68 L553.70,269.68 L553.80,269.68 L553.90,269.68 L554.00,267.97 L554.10,267.97 L554.20,267.97 L554.30,275.20 L554.40,275.20 L554.50,275.20 L554.60,275.20 L554.70,275.20 L554.80,274.63 L554.90,274.63 L555.00,274.63 L555.10,273.47 L555.20,273.47 L555.30,268.04 L555.40,268.04 L555.50,268.04 L555.60,272.19 L555.70,272.19 L555.80,272.19 L555.90,268.09 L556.00,268.09 L556.10,275.20 L556.20,275.20 L556.30,275.20 L556.40,274.15 L556.50,268.53 L556.60,267.27 L556.70,267.27 L556.80,269.53 L556.90,269.53 L557.00,269.53 L557.10,269.53 L557.20,275.20 L557.30,275.20 L557.40,275.20 L557.50,275.20 L557.60,275.20 L557.70,275.20 L557.80,275.20 L557.90,275.20" fill="none" stroke="#2f3490" stroke-width="2.5" stroke-linejoin="round"/>
<line x1="385.6" y1="166.3" x2="661.0" y2="166.3" stroke="#3a3a3a" stroke-width="1.0" />
<line x1="385.6" y1="275.9" x2="661.0" y2="275.9" stroke="#3a3a3a" stroke-width="1.0" />
<line x1="385.6" y1="165.8" x2="385.6" y2="276.4" stroke="#7c7c7c" stroke-width="1.25" />
<line x1="661.0" y1="165.8" x2="661.0" y2="276.4" stroke="#7c7c7c" stroke-width="1.25" />
<line x1="385.6" y1="183.41000000000003" x2="388.20000000000005" y2="183.41000000000003" stroke="#3c3c3c" stroke-width="0.9" />
<line x1="658.4" y1="183.41000000000003" x2="661.0" y2="183.41000000000003" stroke="#3c3c3c" stroke-width="0.9" />
<line x1="385.6" y1="200.52" x2="388.20000000000005" y2="200.52" stroke="#3c3c3c" stroke-width="0.9" />
<line x1="658.4" y1="200.52" x2="661.0" y2="200.52" stroke="#3c3c3c" stroke-width="0.9" />
<line x1="385.6" y1="217.63000000000002" x2="388.20000000000005" y2="217.63000000000002" stroke="#3c3c3c" stroke-width="0.9" />
<line x1="658.4" y1="217.63000000000002" x2="661.0" y2="217.63000000000002" stroke="#3c3c3c" stroke-width="0.9" />
<line x1="385.6" y1="234.74" x2="388.20000000000005" y2="234.74" stroke="#3c3c3c" stroke-width="0.9" />
<line x1="658.4" y1="234.74" x2="661.0" y2="234.74" stroke="#3c3c3c" stroke-width="0.9" />
<line x1="385.6" y1="251.85000000000002" x2="388.20000000000005" y2="251.85000000000002" stroke="#3c3c3c" stroke-width="0.9" />
<line x1="658.4" y1="251.85000000000002" x2="661.0" y2="251.85000000000002" stroke="#3c3c3c" stroke-width="0.9" />
<line x1="385.6" y1="268.96000000000004" x2="388.20000000000005" y2="268.96000000000004" stroke="#3c3c3c" stroke-width="0.9" />
<line x1="658.4" y1="268.96000000000004" x2="661.0" y2="268.96000000000004" stroke="#3c3c3c" stroke-width="0.9" />
<line x1="391.4" y1="166.3" x2="391.4" y2="168.5" stroke="#3c3c3c" stroke-width="0.9" />
<line x1="391.4" y1="275.9" x2="391.4" y2="273.7" stroke="#3c3c3c" stroke-width="0.9" />
<line x1="460.3" y1="166.3" x2="460.3" y2="168.5" stroke="#3c3c3c" stroke-width="0.9" />
<line x1="460.3" y1="275.9" x2="460.3" y2="273.7" stroke="#3c3c3c" stroke-width="0.9" />
<line x1="529.2" y1="166.3" x2="529.2" y2="168.5" stroke="#3c3c3c" stroke-width="0.9" />
<line x1="529.2" y1="275.9" x2="529.2" y2="273.7" stroke="#3c3c3c" stroke-width="0.9" />
<line x1="598.1" y1="166.3" x2="598.1" y2="168.5" stroke="#3c3c3c" stroke-width="0.9" />
<line x1="598.1" y1="275.9" x2="598.1" y2="273.7" stroke="#3c3c3c" stroke-width="0.9" />
<text transform="translate(380.2,170.9) scale(0.9346,1)" font-size="9.63" text-anchor="end" fill="#262626" stroke="#262626" font-weight="normal" >-20</text>
<text transform="translate(380.2,187.8) scale(0.9346,1)" font-size="9.63" text-anchor="end" fill="#262626" stroke="#262626" font-weight="normal" >-30</text>
<text transform="translate(380.2,205.1) scale(0.9346,1)" font-size="9.63" text-anchor="end" fill="#262626" stroke="#262626" font-weight="normal" >-40</text>
<text transform="translate(380.2,222.1) scale(0.9346,1)" font-size="9.63" text-anchor="end" fill="#262626" stroke="#262626" font-weight="normal" >-50</text>
<text transform="translate(380.2,239.3) scale(0.9346,1)" font-size="9.63" text-anchor="end" fill="#262626" stroke="#262626" font-weight="normal" >-60</text>
<text transform="translate(380.2,256.3) scale(0.9346,1)" font-size="9.63" text-anchor="end" fill="#262626" stroke="#262626" font-weight="normal" >-70</text>
<text transform="translate(380.2,273.5) scale(0.9346,1)" font-size="9.63" text-anchor="end" fill="#262626" stroke="#262626" font-weight="normal" >-80</text>
<text transform="translate(392.4,287.5) scale(0.9346,1)" font-size="10.17" text-anchor="middle" fill="#262626" stroke="#262626" font-weight="normal" >1600.246</text>
<text transform="translate(460.1,287.5) scale(0.9346,1)" font-size="10.17" text-anchor="middle" fill="#262626" stroke="#262626" font-weight="normal" >1600.250</text>
<text transform="translate(529.9,287.5) scale(0.9346,1)" font-size="10.17" text-anchor="middle" fill="#262626" stroke="#262626" font-weight="normal" >1600.254</text>
<text transform="translate(598.0,287.5) scale(0.9346,1)" font-size="10.17" text-anchor="middle" fill="#262626" stroke="#262626" font-weight="normal" >1600.258</text>
<text transform="translate(661.4,287.5) scale(0.9346,1)" font-size="10.17" text-anchor="middle" fill="#262626" stroke="#262626" font-weight="normal" >1600.262</text>
<text transform="translate(540.3,297.7) scale(0.9346,1)" font-size="10.27" text-anchor="middle" fill="#262626" stroke="#262626" font-weight="normal" >Wavelength (nm)</text>
<text transform="translate(358.9,217.8) rotate(-90)" font-size="9.9" text-anchor="middle" fill="#262626" stroke="#262626" >Power <tspan fill="#777" stroke="#777">(</tspan>dBm<tspan fill="#777" stroke="#777">)</tspan></text>
<rect x="404.1" y="190.1" width="15.8" height="4.6" fill="#d0ecf4"/>
<rect x="404.1" y="200.4" width="15.8" height="4.6" fill="#d8d8ee"/>
<text transform="translate(423.6,194.8) scale(0.9346,1)" font-size="9.84" text-anchor="start" fill="#262626" stroke="#262626" font-weight="normal" >Carrier</text>
<text transform="translate(423.6,207.4) scale(0.9346,1)" font-size="9.84" text-anchor="start" fill="#262626" stroke="#262626" font-weight="normal" >First sideband</text>
<text x="606.0" y="190.4" font-size="9.4" fill="#262626" stroke="#262626"><tspan font-style="italic">V</tspan><tspan font-size="5.5" font-style="italic" dy="2.5">m</tspan><tspan dy="-2.5">= 3.5 V</tspan></text>
</g>
</svg>
</body></html>
